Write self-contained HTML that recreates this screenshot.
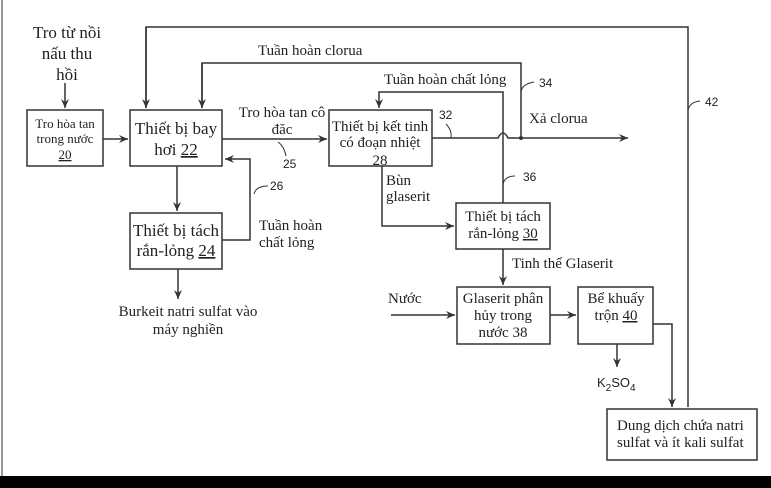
<!DOCTYPE html>
<html><head><meta charset="utf-8"><style>
html,body{margin:0;padding:0;background:#fff;}
svg{display:block;}
text{font-family:"Liberation Serif",serif;fill:#222;}
</style></head><body>
<svg width="771" height="488" viewBox="0 0 771 488" xmlns="http://www.w3.org/2000/svg">
<defs>
<marker id="a" markerWidth="10" markerHeight="8" refX="9" refY="4" orient="auto" markerUnits="userSpaceOnUse">
<path d="M0,0 L9,4 L0,8 L3,4 Z" fill="#333"/></marker>
</defs>
<rect x="1" y="0" width="2" height="488" fill="#999"/>
<rect x="0" y="476" width="771" height="12" fill="#000"/>
<g stroke="#333" stroke-width="1.5" fill="none">
<rect x="27" y="110" width="76" height="56"/>
<rect x="130" y="110" width="92" height="56"/>
<rect x="329" y="110" width="103" height="56"/>
<rect x="130" y="213" width="92" height="56"/>
<rect x="456" y="203" width="94" height="46"/>
<rect x="457" y="287" width="93" height="57"/>
<rect x="578" y="287" width="75" height="57"/>
<rect x="607" y="409" width="150" height="51"/>
<path d="M65,83 V108" marker-end="url(#a)"/>
<path d="M103,139 H128" marker-end="url(#a)"/>
<path d="M222,139 H327" marker-end="url(#a)"/>
<path d="M177,166 V211" marker-end="url(#a)"/>
<path d="M222,240 H250 V159 H225" marker-end="url(#a)"/>
<path d="M178,269 V299" marker-end="url(#a)"/>
<path d="M146,108 V27 H688 V407"/>
<path d="M146,27 V108" marker-end="url(#a)"/>
<path d="M202,108 V63 H521 V138"/>
<path d="M202,63 V108" marker-end="url(#a)"/>
<path d="M432,138 H498 Q503,128 508,138 H628" marker-end="url(#a)"/>
<path d="M503,203 V92 H379 V108" marker-end="url(#a)"/>
<path d="M382,166 V226 H454" marker-end="url(#a)"/>
<path d="M503,249 V285" marker-end="url(#a)"/>
<path d="M391,315 H455" marker-end="url(#a)"/>
<path d="M550,315 H576" marker-end="url(#a)"/>
<path d="M653,324 H672 V407" marker-end="url(#a)"/>
<path d="M617,344 V367" marker-end="url(#a)"/>
<path d="M278,142 Q284,146 286,156" stroke-width="1"/>
<path d="M254,194 Q256,186 268,186" stroke-width="1"/>
<path d="M451,138 Q452,130 446,124" stroke-width="1"/>
<path d="M521,92 Q522,84 534,82" stroke-width="1"/>
<path d="M503,184 Q505,176 515,176" stroke-width="1"/>
<path d="M688,110 Q690,102 700,101" stroke-width="1"/>
</g>
<circle cx="521" cy="138" r="2" fill="#333"/>
<g font-size="17" text-anchor="middle">
<text x="67" y="38">Tro từ nồi</text>
<text x="67" y="59">nấu thu</text>
<text x="67" y="80">hồi</text>
<text x="176" y="134">Thiết bị bay</text>
<text x="176" y="155">hơi <tspan text-decoration="underline">22</tspan></text>
<text x="176" y="236">Thiết bị tách</text>
<text x="176" y="256">rắn-lỏng <tspan text-decoration="underline">24</tspan></text>
</g>
<g font-size="13" text-anchor="middle">
<text x="65" y="128">Tro hòa tan</text>
<text x="65" y="143">trong nước</text>
<text x="65" y="159" text-decoration="underline">20</text>
</g>
<g font-size="15" text-anchor="middle">
<text x="380" y="131">Thiết bị kết tinh</text>
<text x="380" y="147">có đoạn nhiệt</text>
<text x="380" y="165">28</text>
<text x="503" y="221">Thiết bị tách</text>
<text x="503" y="238">rắn-lỏng <tspan text-decoration="underline">30</tspan></text>
<text x="503" y="303">Glaserit phân</text>
<text x="503" y="320">hủy trong</text>
<text x="503" y="337">nước 38</text>
<text x="616" y="303">Bể khuấy</text>
<text x="616" y="320">trộn <tspan text-decoration="underline">40</tspan></text>
<text x="282" y="117">Tro hòa tan cô</text>
<text x="282" y="134">đăc</text>
<text x="188" y="316">Burkeit natri sulfat vào</text>
<text x="188" y="334">máy nghiền</text>
</g>
<g font-size="15">
<text x="258" y="55">Tuần hoàn clorua</text>
<text x="384" y="84">Tuần hoàn chất lỏng</text>
<text x="529" y="123">Xả clorua</text>
<text x="259" y="230">Tuần hoàn</text>
<text x="259" y="247">chất lỏng</text>
<text x="386" y="185">Bùn</text>
<text x="386" y="201">glaserit</text>
<text x="512" y="268">Tinh thể Glaserit</text>
<text x="388" y="303">Nước</text>
<text x="617" y="430">Dung dịch chứa natri</text>
<text x="617" y="447">sulfat và ít kali sulfat</text>
</g>
<g font-size="12">
<text x="283" y="168" style="font-family:'Liberation Sans',sans-serif">25</text>
<text x="270" y="190" style="font-family:'Liberation Sans',sans-serif">26</text>
<text x="439" y="119" style="font-family:'Liberation Sans',sans-serif">32</text>
<text x="539" y="87" style="font-family:'Liberation Sans',sans-serif">34</text>
<text x="523" y="181" style="font-family:'Liberation Sans',sans-serif">36</text>
<text x="705" y="106" style="font-family:'Liberation Sans',sans-serif">42</text>
<text x="597" y="387" style="font-family:'Liberation Sans',sans-serif;font-size:13px">K<tspan dy="4" font-size="10">2</tspan><tspan dy="-4">SO</tspan><tspan dy="4" font-size="10">4</tspan></text>
</g>
</svg>
</body></html>
